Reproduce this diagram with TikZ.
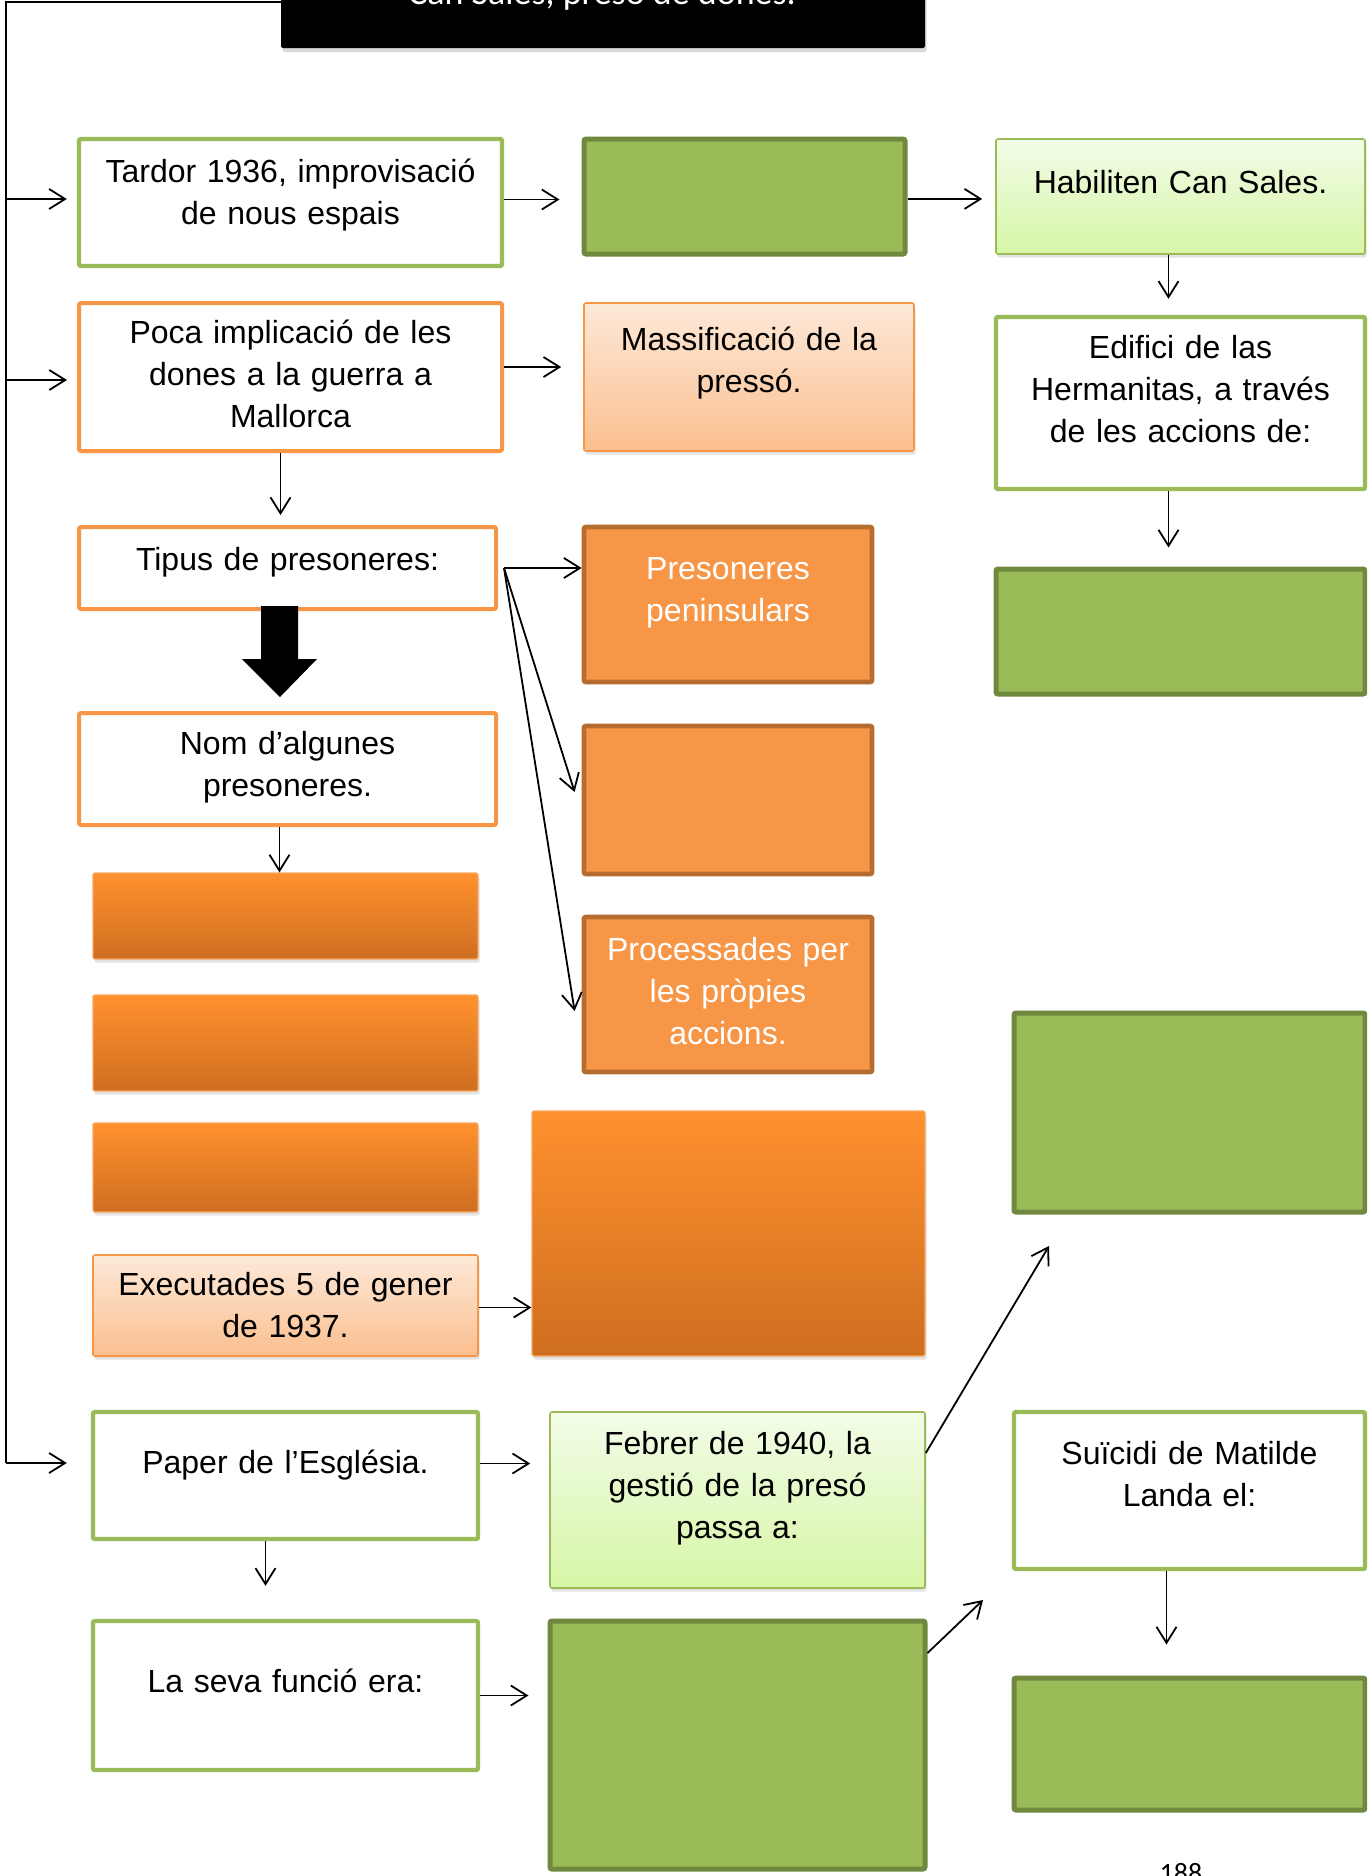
\documentclass[tikz,border=0pt]{standalone}
\usepackage{fontspec}
\setmainfont{Liberation Sans}
\newfontfamily\calib{Carlito}
\usetikzlibrary{arrows.meta,fit,shadows,calc}
\definecolor{gfill}{HTML}{9BBB59}
\definecolor{gdark}{HTML}{71893F}
\definecolor{ofill}{HTML}{F79646}
\definecolor{odark}{HTML}{B66D31}
\definecolor{peachtop}{HTML}{FDE9D9}
\definecolor{peachbot}{HTML}{FBBF8F}
\definecolor{lgtop}{HTML}{F2FCE8}
\definecolor{lgbot}{HTML}{D7F6A6}
\definecolor{ogtop}{HTML}{FF912E}
\definecolor{ogbot}{HTML}{CF6E20}
\tikzset{
  softshadow/.style={drop shadow={shadow xshift=0.8pt,shadow yshift=-1.8pt,opacity=0.22}},
  box/.style={inner sep=0pt,rounded corners=1pt},
  wgreen/.style={box,draw=gfill,line width=2.2pt,fill=white},
  worange/.style={box,draw=ofill,line width=2pt,fill=white},
  gsolid/.style={box,draw=gdark,line width=2.5pt,fill=gfill},
  osolid/.style={box,draw=odark,line width=2.4pt,fill=ofill},
  lgreen/.style={box,softshadow,draw=gfill,line width=0.8pt,top color=lgtop,bottom color=lgbot},
  peach/.style={box,softshadow,draw=ofill,line width=0.8pt,top color=peachtop,bottom color=peachbot},
  ograd/.style={box,softshadow,draw=ofill!85,line width=0.6pt,top color=ogtop,bottom color=ogbot},
  txt/.style={anchor=base,align=center,inner sep=0pt,text width=210pt,font=\fontsize{16}{21}\selectfont},
  ln/.style={line width=0.9pt},
  arr/.style={ln,-{Straight Barb[length=8pt,width=10pt]}},
}
\begin{document}
\begin{tikzpicture}[x=0.5pt,y=-0.5pt]
\useasboundingbox (0,0) rectangle (1367,1876);
\clip (0,0) rectangle (1367,1876);
\fill[white] (0,0) rectangle (1367,1876);

% header
\node[box,fill=black,fit={(281,-80) (925,48)},drop shadow={shadow xshift=0.8pt,shadow yshift=-2pt,opacity=0.3}] (hd) {};
\node[anchor=base,inner sep=0pt,text=white,font=\calib\fontsize{18}{18}\selectfont] (hdt) at (602,4) {Can Sales, presó de dones.};

% boxes
\node[wgreen,fit={(79,139) (502,266)}] (tardor) {};
\node[gsolid,fit={(584,139) (905,254)}] (g1) {};
\node[lgreen,fit={(996,139) (1365,254)}] (hab) {};
\node[wgreen,fit={(996,317) (1365,489)}] (edif) {};
\node[gsolid,fit={(996,569) (1365,694)}] (g2) {};
\node[worange,fit={(79,303) (502,451)}] (poca) {};
\node[peach,fit={(584,303) (914,451)}] (mass) {};
\node[worange,fit={(79,527) (496,609)}] (tipus) {};
\node[worange,fit={(79,713) (496,825)}] (nom) {};
\node[ograd,fit={(93,873) (478,959)}] (ob1) {};
\node[ograd,fit={(93,995) (478,1091)}] (ob2) {};
\node[ograd,fit={(93,1123) (478,1212)}] (ob3) {};
\node[peach,fit={(93,1255) (478,1356)}] (exec) {};
\node[ograd,fit={(532,1111) (925,1356)}] (big) {};
\node[osolid,fit={(584,527) (872,682)}] (pres) {};
\node[osolid,fit={(584,726) (872,874)}] (pres2) {};
\node[osolid,fit={(584,917) (872,1072)}] (proc) {};
\node[gsolid,fit={(1014,1013) (1365,1212)}] (gmid) {};
\node[wgreen,fit={(93,1412) (478,1539)}] (paper) {};
\node[lgreen,fit={(550,1412) (925,1588)}] (febrer) {};
\node[wgreen,fit={(93,1621) (478,1770)}] (laseva) {};
\node[gsolid,fit={(550,1621) (925,1869)}] (gbot) {};
\node[wgreen,fit={(1014,1412) (1365,1569)}] (suic) {};
\node[gsolid,fit={(1014,1678) (1365,1810)}] (g3) {};

% texts
\node[txt] (t1) at (290.5,182) {Tardor 1936, improvisació\\de nous espais};
\node[txt] (t2) at (290.5,343) {Poca implicació de les\\dones a la guerra a\\Mallorca};
\node[txt] (t3) at (1180.5,193) {Habiliten Can Sales.};
\node[txt] (t4) at (1180.5,358) {Edifici de las\\Hermanitas, a través\\de les accions de:};
\node[txt] (t5) at (749,350) {Massificació de la\\pressó.};
\node[txt] (t6) at (287.5,570) {Tipus de presoneres:};
\node[txt] (t7) at (287.5,754) {Nom d’algunes\\presoneres.};
\node[txt,text=white] (t8) at (728,579) {Presoneres\\peninsulars};
\node[txt,text=white] (t9) at (728,960) {Processades per\\les pròpies\\accions.};
\node[txt] (t10) at (285.5,1295) {Executades 5 de gener\\de 1937.};
\node[txt] (t11) at (285.5,1473) {Paper de l’Església.};
\node[txt] (t12) at (737.5,1454) {Febrer de 1940, la\\gestió de la presó\\passa a:};
\node[txt] (t13) at (285.5,1692) {La seva funció era:};
\node[txt] (t14) at (1189.5,1464) {Suïcidi de Matilde\\Landa el:};

% page number
\node[anchor=base,inner sep=0pt,font=\calib\fontsize{14}{14}\selectfont] (pg) at (1181,1882) {188};

% trunk on the left
\coordinate (hdl) at (281,2);
\coordinate (ttop) at (6,2);
\coordinate (tj1) at (6,199);
\coordinate (tj2) at (6,380);
\coordinate (tbot) at (6,1463);
\draw[ln] (hdl) -- (ttop) -- (tbot);
\draw[arr,shorten >=5pt] (tj1) -- (tj1 -| tardor.west);
\draw[arr,shorten >=5pt] (tj2) -- (tj2 -| poca.west);
\draw[arr,shorten >=12pt] (tbot) -- (tbot -| paper.west);

% connectors
\draw[arr,shorten >=11pt] ([yshift=1.5pt]tardor.east) -- ([yshift=1.5pt]tardor.east -| g1.west);
\draw[arr,shorten >=6.5pt] ([yshift=-1.2pt]g1.east) -- ([yshift=-1.2pt]g1.east -| hab.west);
\draw[arr,shorten >=8pt] ([xshift=-6pt]hab.south) -- ([xshift=-6pt]hab.south |- edif.north);
\draw[arr,shorten >=9.5pt] ([xshift=-6pt]edif.south) -- ([xshift=-6pt]edif.south |- g2.north);
\draw[arr,shorten >=11pt] ([yshift=5pt]poca.east) -- ([yshift=5pt]poca.east -| mass.west);
\draw[arr,shorten >=5pt] ([xshift=-5pt]poca.south) -- ([xshift=-5pt]poca.south |- tipus.north);
\coordinate (tipj) at ($(tipus.east)+(3pt,0)$);
\draw[arr] (tipj) -- (tipj -| pres.west);
\draw[arr] (tipj) -- ([shift={(-3.5pt,4pt)}]pres2.west);
\draw[arr] (tipj) -- ([shift={(-3.5pt,-8.25pt)}]proc.west);
\fill (261,606) -- (298,606) -- (298,659) -- (317,659) -- (280,697) -- (242,659) -- (261,659) -- cycle;
\draw[arr] ([xshift=-4pt]nom.south) -- ([xshift=-4pt]nom.south |- ob1.north);
\draw[arr] ([yshift=-1pt]exec.east) -- ([yshift=-1pt]exec.east -| big.west);
\draw[arr,shorten >=9.5pt] ([yshift=6pt]paper.east) -- ([yshift=6pt]paper.east -| febrer.west);
\draw[arr,shorten >=16.5pt] ([xshift=-10pt]paper.south) -- ([xshift=-10pt]paper.south |- laseva.north);
\draw[arr,shorten >=9.5pt] (laseva.east) -- (laseva.east -| gbot.west);
\draw[arr,shorten >=15.5pt] ([xshift=-11.5pt]suic.south) -- ([xshift=-11.5pt]suic.south |- g3.north);
\coordinate (fa) at (1049,1246);
\coordinate (fb) at (983,1600);
\draw[arr] ([yshift=23.5pt]febrer.east) -- (fa);
\draw[arr] ([yshift=46pt]gbot.east) -- (fb);
\end{tikzpicture}
\end{document}
